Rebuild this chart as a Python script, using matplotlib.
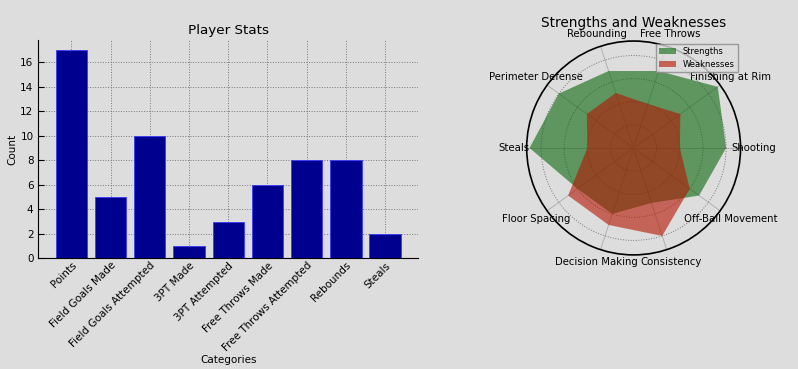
import numpy as np
import matplotlib
matplotlib.use("Agg")
import matplotlib.pyplot as plt

# ── Shared style ─────────────────────────────────────────────────
plt.rcParams.update({
    "font.family":       "DejaVu Sans",
    "figure.facecolor":  "#dddddd",
    "axes.facecolor":    "#dddddd",
    "savefig.facecolor": "#dddddd",
    "axes.spines.top":   False,
    "axes.spines.right": False,
    "axes.grid":         True,
    "grid.linestyle":    ":",
    "grid.color":        "#777777",
    "grid.linewidth":    0.7,
    "xtick.direction":   "in",
    "ytick.direction":   "in",
})

# ── Data ─────────────────────────────────────────────────────────
stat_names = ["Points", "Field Goals Made", "Field Goals Attempted", "3PT Made",
              "3PT Attempted", "Free Throws Made", "Free Throws Attempted",
              "Rebounds", "Steals"]
stat_values = [17, 5, 10, 1, 3, 6, 8, 8, 2]

skills = ["Shooting", "Finishing at Rim", "Free Throws", "Rebounding",
          "Perimeter Defense", "Steals", "Floor Spacing", "Decision Making",
          "Consistency", "Off-Ball Movement"]
strengths = [8, 9, 7, 7, 8, 9, 6, 6, 5, 7]
weaknesses = [4, 5, 4, 5, 5, 4, 7, 7, 8, 6]

fig = plt.figure(figsize=(7.98, 3.69), dpi=100)

# ── Left: bar chart ──────────────────────────────────────────────
ax = fig.add_axes([0.048, 0.300, 0.476, 0.592])
ax.bar(stat_names, stat_values, width=0.8, color="#00008f",
       edgecolor="#3a3aff", linewidth=0.6, zorder=3)
ax.set_title("Player Stats", fontsize=9.7, pad=4)
ax.set_xlabel("Categories", fontsize=7.5, labelpad=1)
ax.set_ylabel("Count", fontsize=7.5, labelpad=2)
ax.set_yticks(range(0, 17, 2))
ax.tick_params(axis="both", labelsize=7.5, length=4)
ax.tick_params(axis="x", pad=1.5)
plt.setp(ax.get_xticklabels(), rotation=45, ha="right", rotation_mode="anchor")

# ── Right: radar chart ───────────────────────────────────────────
angles = np.linspace(0, 2 * np.pi, len(skills), endpoint=False)
ang_c = np.concatenate([angles, angles[:1]])
s_c = strengths + strengths[:1]
w_c = weaknesses + weaknesses[:1]

ax2 = fig.add_axes([0.660, 0.309, 0.268, 0.580], polar=True)
ax2.set_axisbelow(True)
ax2.fill(ang_c, s_c, color="#0b670b", alpha=0.6, linewidth=0, label="Strengths")
ax2.fill(ang_c, w_c, color="#b41400", alpha=0.6, linewidth=0, label="Weaknesses")
ax2.set_xticks(angles)
ax2.set_xticklabels(skills, fontsize=7.3)
ax2.set_yticklabels([])
ax2.tick_params(axis="x", pad=2.5)
ax2.xaxis.grid(True, linestyle="-", color="#aaaaaa", linewidth=0.6)
ax2.yaxis.grid(True, linestyle=":", color="#777777", linewidth=0.7)
ax2.spines["polar"].set_linewidth(1.2)
ax2.set_title("Strengths and Weaknesses", fontsize=9.8, y=1.065, pad=0)
ax2.legend(loc="upper right", fontsize=6, facecolor="#dddddd", fancybox=False,
           edgecolor="#888888", borderaxespad=0.3)

fig.savefig("out.png", dpi=100)
